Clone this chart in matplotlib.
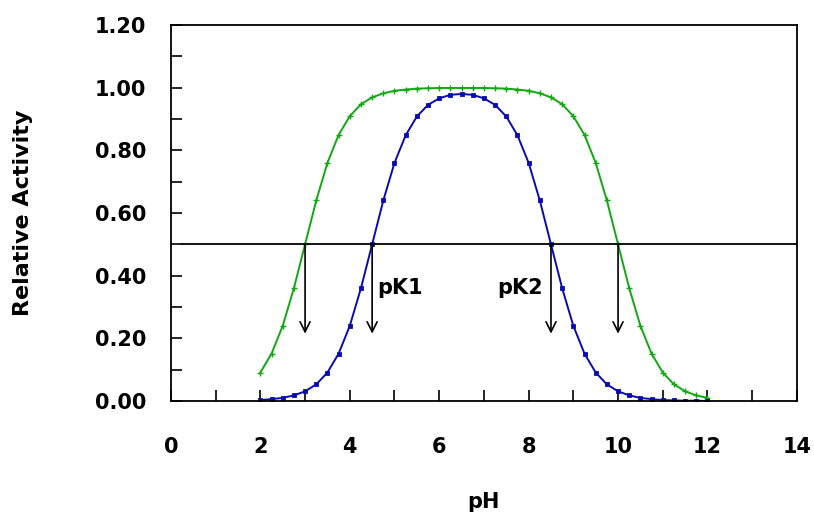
import matplotlib
matplotlib.use("Agg")
import matplotlib.pyplot as plt
from matplotlib.ticker import MultipleLocator

plt.rcParams["font.family"] = ["DejaVu Sans"]
plt.rcParams["font.weight"] = "bold"

# pH sampled every 0.25 units
ph = [2.0 + 0.25 * i for i in range(41)]

# wide-optimum enzyme (pKa 3 and 10)
activity_wide = [
    0.091, 0.151, 0.240, 0.360, 0.500, 0.640, 0.760, 0.849, 0.909, 0.947,
    0.969, 0.982, 0.990, 0.994, 0.997, 0.998, 0.999, 0.999, 0.999, 0.999,
    0.999, 0.998, 0.997, 0.994, 0.990, 0.982, 0.969, 0.947, 0.909, 0.849,
    0.760, 0.640, 0.500, 0.360, 0.240, 0.151, 0.091, 0.053, 0.031, 0.018,
    0.010,
]

# narrow-optimum enzyme (pK1 4.5, pK2 8.5)
activity_narrow = [
    0.003, 0.006, 0.010, 0.018, 0.031, 0.053, 0.091, 0.151, 0.240, 0.360,
    0.500, 0.640, 0.760, 0.848, 0.908, 0.945, 0.966, 0.977, 0.980, 0.977,
    0.966, 0.945, 0.908, 0.848, 0.760, 0.640, 0.500, 0.360, 0.240, 0.151,
    0.091, 0.053, 0.031, 0.018, 0.010, 0.006, 0.003, 0.002, 0.001, 0.001,
    0.000,
]

half_level = 0.5
half_points = [3.0, 4.5, 8.5, 10.0]
arrow_end = 0.215
pk_labels = [("pK1", 4.62, "left"), ("pK2", 8.32, "right")]

GREEN = "#12a812"
BLUE = "#0a0ab0"
FS = 15

fig = plt.figure(figsize=(8.14, 5.14), dpi=100)
ax = fig.add_axes([0.210, 0.2198, 0.769, 0.7316])

ax.plot(ph, activity_wide, color=GREEN, lw=1.4, marker="+", ms=4, mew=1.0)
ax.plot(ph, activity_narrow, color=BLUE, lw=1.4, marker="s", ms=2.8, mew=0.6)

# half-activity line and arrows down from the crossings
ax.plot([0.25, 14], [half_level, half_level], color="black", lw=1.3)
for x in half_points:
    ax.annotate("", xy=(x, arrow_end), xytext=(x, half_level),
                arrowprops=dict(arrowstyle="->", color="black", lw=1.2,
                                mutation_scale=18, shrinkA=0, shrinkB=0))
for text, x, ha in pk_labels:
    ax.text(x, 0.36, text, ha=ha, va="center", fontsize=FS, fontweight="bold")

ax.set_xlim(0, 14)
ax.set_ylim(0, 1.2)
ax.xaxis.set_major_locator(MultipleLocator(2))
ax.xaxis.set_minor_locator(MultipleLocator(1))
ax.yaxis.set_major_locator(MultipleLocator(0.2))
ax.yaxis.set_minor_locator(MultipleLocator(0.1))
ax.yaxis.set_major_formatter(plt.FormatStrFormatter("%.2f"))
ax.tick_params(axis="both", which="both", direction="in", length=8, width=1.2,
               top=False, right=False, labelsize=FS)
ax.tick_params(axis="x", which="major", pad=26)
ax.tick_params(axis="y", which="major", pad=18)
for spine in ax.spines.values():
    spine.set_linewidth(1.3)

ax.set_xlabel("pH", fontsize=FS, fontweight="bold", va="center")
ax.xaxis.set_label_coords(0.5, -0.268)
ax.set_ylabel("Relative Activity", fontsize=16, fontweight="bold", va="center")
ax.yaxis.set_label_coords(-0.236, 0.5)

fig.savefig("out.png", dpi=100)
